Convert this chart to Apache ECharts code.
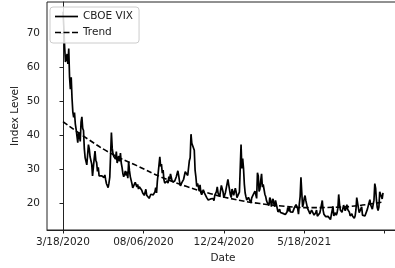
<!DOCTYPE html>
<html lang="en">
<head>
    <meta charset="UTF-8">
    <title>CBOE VIX</title>
    <script src="https://cdn.jsdelivr.net/npm/echarts@6/dist/echarts.min.js"></script>
    <style>
        html, body { margin: 0; padding: 0; background: #fff; }
    </style>
</head>
<body>
    <div id="main" style="width: 395px;height:268px;"></div>
    <script type="text/javascript">
        // daily closes, trading day index 0 = 3/18/2020
        var vixValues = [
            // 2020-03
            76.45, 72.00, 66.04, 61.59, 61.67, 63.95, 61.00, 65.54, 57.08, 53.54,
            // 2020-04
            57.06, 50.91, 46.80, 45.24, 46.70, 43.35, 41.67, 41.17, 37.76, 40.84, 40.11, 38.15, 43.83, 45.41, 41.98, 41.38, 35.93, 33.29, 33.57, 31.23, 34.15,
            // 2020-05
            37.19, 35.97, 33.61, 34.12, 31.44, 27.98, 27.57, 33.04, 35.28, 32.61, 31.89, 29.30, 30.53, 27.99, 28.16, 28.16, 28.01, 27.62, 28.59, 27.51,
            // 2020-06
            28.23, 26.84, 25.66, 25.81, 24.52, 25.81, 27.57, 27.57, 40.79, 36.09, 34.40, 33.67, 33.47, 32.94, 35.12, 31.77, 31.37, 33.84, 32.22, 34.73, 31.78, 30.43,
            // 2020-07
            28.62, 27.68, 27.94, 29.43, 28.08, 29.26, 27.29, 32.19, 29.52, 27.76, 28.00, 25.68, 24.46, 24.84, 24.32, 26.08, 25.84, 24.74, 25.44, 24.10, 24.76, 24.46,
            // 2020-08
            24.28, 23.76, 22.99, 22.65, 22.21, 22.13, 24.03, 22.28, 22.13, 22.05, 21.35, 21.51, 22.54, 22.72, 22.54, 22.37, 22.03, 23.27, 24.47, 22.96, 26.41,
            // 2020-09
            26.12, 26.57, 33.60, 30.75, 31.46, 28.81, 29.71, 26.87, 25.85, 25.59, 26.04, 26.46, 25.83, 27.78, 26.86, 28.58, 28.51, 26.38, 26.19, 26.27, 26.37,
            // 2020-10
            26.70, 27.63, 27.96, 29.48, 28.06, 26.36, 25.00, 25.07, 26.07, 26.40, 26.97, 27.41, 29.18, 29.35, 28.65, 28.11, 27.55, 32.46, 33.35, 40.28, 37.59, 38.02,
            // 2020-11
            37.13, 35.55, 29.57, 27.58, 24.86, 25.75, 24.80, 23.45, 25.35, 23.10, 22.45, 22.71, 23.84, 23.11, 23.70, 22.66, 21.64, 21.25, 20.84, 20.57,
            // 2020-12
            20.77, 21.17, 21.28, 20.79, 21.30, 20.68, 22.27, 22.52, 23.31, 24.72, 22.89, 22.50, 21.93, 21.57, 25.16, 24.23, 23.31, 21.53, 21.70, 23.08, 22.77, 22.75,
            // 2021-01
            26.97, 25.34, 25.07, 22.37, 21.56, 24.08, 23.33, 22.21, 23.25, 24.34, 23.24, 21.58, 21.32, 21.91, 23.19, 23.02, 37.21, 30.21, 33.09,
            // 2021-02
            30.24, 25.56, 22.91, 21.77, 20.87, 21.24, 21.63, 21.99, 21.25, 19.97, 21.46, 21.50, 22.49, 22.05, 23.45, 23.11, 21.34, 28.89, 27.95,
            // 2021-03
            23.35, 24.10, 26.67, 28.57, 24.66, 25.47, 24.03, 22.56, 21.91, 20.69, 20.03, 19.79, 19.23, 21.58, 20.95, 18.88, 20.30, 21.20, 19.81, 18.86, 20.74, 19.61, 19.40,
            // 2021-04
            17.33, 17.91, 18.12, 17.16, 16.95, 16.69, 16.91, 16.65, 16.99, 16.57, 16.25, 17.29, 18.68, 17.50, 18.71, 17.33, 17.64, 17.56, 17.28, 17.61, 18.61,
            // 2021-05
            18.31, 19.48, 19.15, 18.39, 16.69, 19.66, 21.84, 27.59, 23.13, 18.81, 19.72, 21.34, 22.18, 20.67, 20.15, 18.40, 18.84, 17.36, 16.74, 16.76,
            // 2021-06
            17.90, 17.48, 18.04, 16.42, 16.42, 17.07, 17.89, 16.10, 15.65, 16.39, 17.02, 18.15, 17.75, 20.70, 17.89, 16.66, 16.32, 15.97, 15.62, 15.76, 16.02, 15.83,
            // 2021-07
            15.48, 15.07, 16.44, 16.20, 19.00, 16.18, 16.17, 17.12, 16.33, 17.01, 18.45, 22.50, 19.73, 17.91, 17.69, 17.20, 17.58, 19.36, 18.31, 17.70, 18.24,
            // 2021-08
            19.46, 18.04, 17.97, 17.28, 16.15, 16.72, 16.79, 16.06, 15.59, 15.45, 16.12, 17.91, 21.57, 21.67, 18.56, 17.15, 17.22, 16.79, 18.84, 16.39, 16.14, 16.48,
            // 2021-09
            16.11, 16.41, 16.41, 18.17, 19.13, 19.69, 20.95, 19.37, 19.46, 18.18, 18.69, 20.81, 25.71, 24.36, 20.87, 18.63, 17.75, 18.76, 23.25, 22.56, 23.14,
            // 2021-10
            21.15, 22.96
        ]

        // trend line
        var trendIndex = [0, 30, 60, 90, 120, 150, 180, 210, 240, 270, 300, 330, 360, 390]
        var trendValues = [44.0, 38.9, 34.4, 31.0, 27.6, 24.9, 22.7, 21.0, 19.8, 19.0, 18.6, 18.7, 19.2, 20.3]

        var xTicks = [0, 98, 196, 294, 392]
        var xTickLabels = ['3/18/2020', '08/06/2020', '12/24/2020', '5/18/2021', '']
        var yTicks = [20, 30, 40, 50, 60, 70]

        var myChart = echarts.init(document.getElementById('main'), null, { renderer: 'canvas' });

        var vixData = vixValues.map((v, i) => [i, v])
        var trendData = trendIndex.map((x, i) => [x, trendValues[i]])

        var axisFont = { fontFamily: 'DejaVu Sans', fontSize: 10.5, color: '#222' }

        // legend samples: a plain line and a three-dash line
        var solidIcon = 'path://M0,0h23v1.7h-23z'
        var dashIcon = 'path://M0,0h6v1.7h-6zM8.5,0h6v1.7h-6zM17,0h6v1.7h-6z'

        var option = {
            animation: false,
            grid: {
                left: 47, top: 2, right: -4, bottom: 38,
                show: true, borderColor: '#222', borderWidth: 1,
                containLabel: false, outerBoundsMode: 'none'
            },
            legend: {
                orient: 'vertical',
                left: 50, top: 7,
                itemWidth: 23, itemHeight: 1.7, itemGap: 5,
                padding: [4, 6, 5, 5],
                backgroundColor: 'rgba(255,255,255,0.85)',
                borderColor: '#ccc', borderWidth: 1, borderRadius: 3,
                textStyle: { fontFamily: 'DejaVu Sans', fontSize: 10.5, color: '#222' },
                data: [
                    { name: 'CBOE VIX', icon: solidIcon },
                    { name: 'Trend', icon: dashIcon }
                ]
            },
            xAxis: {
                type: 'value',
                min: -19.5, max: 409.5,
                name: 'Date', nameLocation: 'middle', nameGap: 22,
                nameTextStyle: axisFont,
                splitLine: { show: false },
                axisLine: { lineStyle: { color: '#222', width: 1 } },
                axisTick: { inside: false, length: 3.5, lineStyle: { color: '#222' }, customValues: xTicks },
                axisLabel: Object.assign({
                    margin: 7,
                    customValues: xTicks,
                    formatter: v => xTickLabels[xTicks.indexOf(v)] || ''
                }, axisFont)
            },
            yAxis: {
                type: 'value',
                min: 12, max: 79.3,
                name: 'Index Level', nameLocation: 'middle', nameGap: 26,
                nameMoveOverlap: false,
                nameRotate: 90,
                nameTextStyle: axisFont,
                splitLine: { show: false },
                axisLine: { show: true, lineStyle: { color: '#222', width: 1 } },
                axisTick: { show: true, inside: false, length: 3.5, lineStyle: { color: '#222' }, customValues: yTicks },
                axisLabel: Object.assign({ margin: 7, customValues: yTicks }, axisFont)
            },
            series: [{
                name: 'CBOE VIX',
                type: 'line',
                data: vixData,
                symbol: 'none',
                lineStyle: { color: '#000', width: 1.7 },
                itemStyle: { color: '#000' }
            }, {
                name: 'Trend',
                type: 'line',
                data: trendData,
                symbol: 'none',
                smooth: true,
                lineStyle: { color: '#000', width: 1.6, type: [5.5, 2.6] },
                itemStyle: { color: '#000' }
            }]
        };
        myChart.setOption(option);
    </script>
</body>
</html>
